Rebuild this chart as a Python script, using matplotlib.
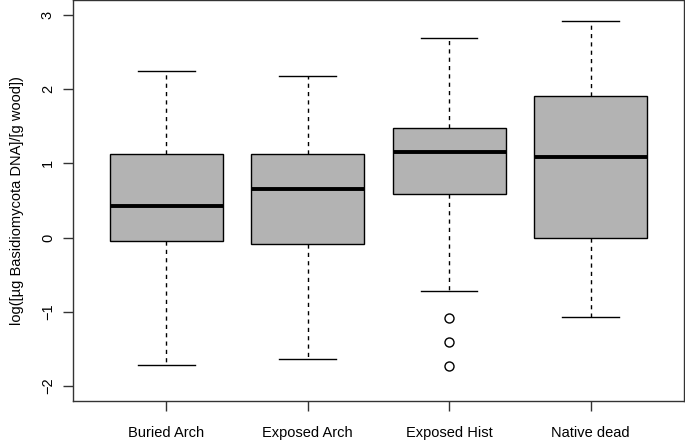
import matplotlib
matplotlib.use("Agg")
import matplotlib.pyplot as plt

plt.rcParams['font.family'] = ['Liberation Sans', 'DejaVu Sans']

groups = ['Buried Arch', 'Exposed Arch', 'Exposed Hist', 'Native dead']
whisker_low = [-1.72, -1.64, -0.72, -1.07]
q1 = [-0.05, -0.08, 0.59, 0.00]
median = [0.42, 0.66, 1.15, 1.09]
q3 = [1.12, 1.12, 1.47, 1.91]
whisker_high = [2.25, 2.18, 2.69, 2.92]
outliers = [[], [], [-1.08, -1.41, -1.73], []]

stats = []
for i, g in enumerate(groups):
    stats.append({'label': g, 'whislo': whisker_low[i], 'q1': q1[i],
                  'med': median[i], 'q3': q3[i], 'whishi': whisker_high[i],
                  'fliers': outliers[i]})

fig = plt.figure(figsize=(6.85, 4.42), dpi=100)
ax = fig.add_axes([0.1066, 0.0928, 0.8919, 0.9072])

ax.bxp(stats, positions=[1, 2, 3, 4], widths=0.8, patch_artist=True,
       boxprops=dict(facecolor='#b3b3b3', edgecolor='black', linewidth=1),
       medianprops=dict(color='black', linewidth=2.8),
       whiskerprops=dict(color='black', linewidth=1, linestyle=(0, (3, 3))),
       capprops=dict(color='black', linewidth=1),
       capwidths=0.4,
       flierprops=dict(marker='o', markerfacecolor='none',
                       markeredgecolor='black', markersize=6.5,
                       markeredgewidth=1))

ax.set_xlim(0.34, 4.66)
ax.set_ylim(-2.2, 3.2)
ax.set_yticks([-2, -1, 0, 1, 2, 3])
ax.set_yticklabels(['\u22122', '\u22121', '0', '1', '2', '3'],
                   rotation=90, va='center')
ax.tick_params(axis='both', length=7, width=1, labelsize=10.5, pad=6,
               color='#333333')
ax.tick_params(axis='x', pad=11)
ax.set_ylabel('log([\u00b5g Basidiomycota DNA]/[g wood])', fontsize=10.5,
              labelpad=12)
for s in ax.spines.values():
    s.set_linewidth(1)
    s.set_color('#333333')

fig.savefig('out.png', dpi=100)
